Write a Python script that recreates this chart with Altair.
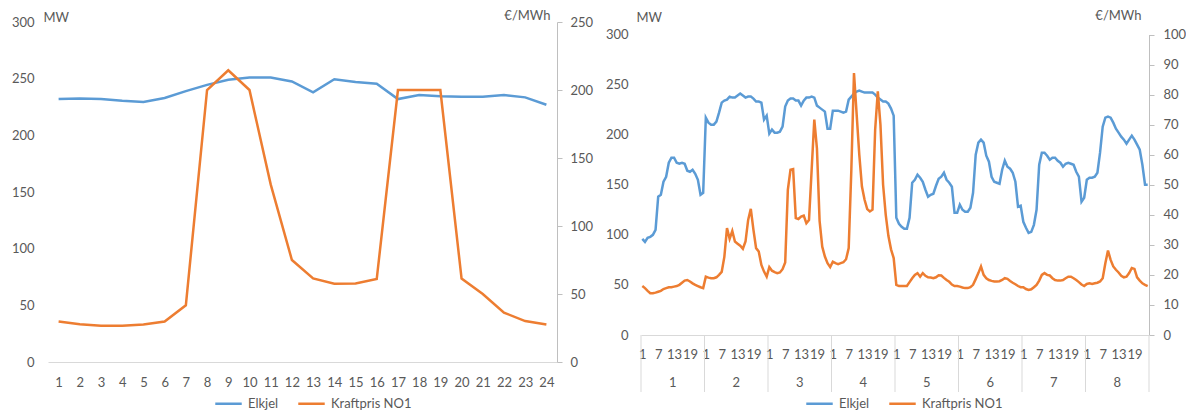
import altair as alt
import pandas as pd

# ---------------- data ----------------
hours = list(range(1, 25))
elkjel_day = [232, 232.5, 232, 230.5, 229.5, 233, 239, 244.5, 249, 251, 251, 247.5,
              238, 249.5, 247, 245.5, 232, 235.5, 234.5, 234, 234, 235.5, 233.5, 227]
pris_day = [29.7, 27.7, 26.7, 26.7, 27.5, 29.7, 41.7, 200, 214.5, 200, 130.6, 75,
            61.5, 57.6, 57.8, 61, 200, 200, 200, 61.3, 50, 36.3, 30.1, 27.5]

days = [1, 2, 3, 4, 5, 6, 7, 8]
hour_ticks = [1, 7, 13, 19]
elkjel_d1 = [96, 93, 97, 98, 100, 105, 138, 140, 153, 158, 172, 177, 177, 172, 171, 172, 171, 164, 163, 165, 161, 155, 140, 142]
elkjel_d2 = [217, 212, 210, 210, 213, 222, 232, 234, 235, 238, 237, 237, 239, 241, 239, 237, 238, 238, 236, 233, 233, 232, 215, 219]
elkjel_d3 = [201, 205, 202, 202, 203, 208, 228, 234, 236, 236, 234, 234, 229, 234, 237, 237, 238, 237, 229, 227, 225, 223, 206, 206]
elkjel_d4 = [224, 224, 224, 223, 222, 223, 235, 238, 241, 243, 244, 243, 242, 242, 242, 242, 240, 237, 235, 233, 233, 231, 226, 219]
elkjel_d5 = [117, 111, 108, 106, 106, 117, 152, 155, 160, 157, 153, 145, 138, 140, 141, 149, 156, 158, 162, 155, 152, 148, 122, 122]
elkjel_d6 = [130, 125, 123, 123, 127, 142, 180, 192, 195, 192, 179, 173, 158, 153, 152, 151, 165, 174, 168, 166, 162, 153, 128, 129]
elkjel_d7 = [113, 107, 102, 103, 110, 125, 170, 182, 182, 179, 175, 177, 177, 174, 172, 168, 171, 172, 171, 170, 163, 158, 133, 137]
elkjel_d8 = [155, 157, 157, 158, 162, 182, 208, 217, 218, 217, 212, 206, 202, 198, 195, 191, 195, 199, 195, 190, 185, 170, 150, 150]

pris_d1 = [16.3, 15.6, 14.7, 13.9, 13.9, 14.1, 14.4, 14.7, 15.3, 15.6, 15.9, 15.9, 16.1, 16.3, 16.7, 17.4, 18.1, 18.3, 17.8, 17.2, 16.7, 16.3, 15.9, 15.6]
pris_d2 = [19.4, 19.1, 18.9, 18.9, 19.2, 20.0, 21.0, 26.0, 35.6, 32.0, 34.6, 31.1, 30.4, 29.7, 28.7, 31.1, 38.3, 42.0, 35.0, 28.9, 27.8, 23.3, 21.1, 19.4]
pris_d3 = [22.6, 21.4, 20.9, 20.6, 20.8, 21.9, 24.1, 48.3, 55.0, 55.2, 38.9, 38.6, 39.4, 39.7, 37.2, 38.3, 55.0, 71.7, 62.0, 38.0, 29.4, 26.1, 23.9, 22.6]
pris_d4 = [24.4, 23.9, 23.6, 23.9, 24.2, 25.2, 28.9, 55.0, 87.2, 73.5, 60.0, 49.4, 45.0, 41.9, 41.1, 41.7, 68.3, 81.1, 70.0, 50.0, 40.0, 33.0, 28.5, 25.6]
pris_d5 = [16.7, 16.3, 16.3, 16.3, 16.3, 17.6, 18.9, 20.0, 20.6, 19.4, 20.6, 19.7, 19.2, 19.1, 18.9, 19.2, 19.9, 19.8, 19.0, 18.3, 17.7, 16.8, 16.3, 16.3]
pris_d6 = [16.1, 15.8, 15.6, 15.6, 15.9, 16.7, 18.6, 20.6, 22.8, 20.0, 18.9, 18.3, 18.0, 17.8, 17.8, 17.9, 18.3, 18.9, 18.7, 18.0, 17.4, 16.9, 16.3, 15.9]
pris_d7 = [15.9, 15.3, 15.0, 15.2, 15.9, 16.7, 18.1, 20.0, 20.6, 20.0, 19.8, 18.9, 18.3, 18.1, 18.1, 18.3, 18.9, 19.4, 19.4, 18.9, 18.3, 17.6, 16.8, 16.3]
pris_d8 = [17.0, 17.2, 17.0, 17.2, 17.4, 17.8, 18.9, 23.9, 28.1, 25.0, 22.8, 21.7, 20.8, 19.7, 19.2, 19.4, 20.6, 22.3, 22.0, 19.2, 18.1, 17.2, 16.7, 16.3]

elkjel_week = [elkjel_d1, elkjel_d2, elkjel_d3, elkjel_d4, elkjel_d5, elkjel_d6, elkjel_d7, elkjel_d8]
pris_week = [pris_d1, pris_d2, pris_d3, pris_d4, pris_d5, pris_d6, pris_d7, pris_d8]

series = ["Elkjel", "Kraftpris NO1"]

# ---------------- style ----------------
FONT = "Lato"
GRAY = "#595959"
LIGHT = "#D9D9D9"
AXIS = "#BFBFBF"
BLUE = "#5B9BD5"
ORANGE = "#ED7D31"
FS = 13
LW = 2.5

color_scale = alt.Scale(domain=series, range=[BLUE, ORANGE])


def make_legend(x, y):
    return alt.Legend(orient="none", legendX=x, legendY=y, direction="horizontal",
                      title=None, symbolType="stroke", symbolStrokeWidth=LW,
                      symbolSize=700, labelFontSize=FS, labelColor=GRAY, labelFont=FONT,
                      columnPadding=14, labelOffset=5, padding=0)


def yaxis_left(top_offset, label_pad):
    return alt.Axis(orient="left", values=[0, 50, 100, 150, 200, 250, 300], title="MW",
                    titleAngle=0, titleX=-5, titleY=-5 + top_offset, titleAlign="left",
                    titleBaseline="middle", titleFont=FONT, titleFontSize=FS,
                    titleColor=GRAY, titleFontWeight="normal",
                    labelFont=FONT, labelFontSize=FS, labelColor=GRAY,
                    domain=False, ticks=False, grid=False, labelPadding=label_pad)


def yaxis_right(values, title_x, label_pad):
    return alt.Axis(orient="right", values=values, title="€/MWh",
                    titleAngle=0, titleX=title_x, titleY=-7, titleAlign="right",
                    titleBaseline="middle", titleFont=FONT, titleFontSize=FS,
                    titleColor=GRAY, titleFontWeight="normal",
                    labelFont=FONT, labelFontSize=FS, labelColor=GRAY,
                    domain=True, domainColor=AXIS, ticks=True, tickColor=AXIS,
                    tickSize=5, grid=False, labelPadding=label_pad)


# ---------------- left panel ----------------
WL, HL = 509, 340
left_df = pd.DataFrame({"hour": hours, "Elkjel": elkjel_day, "Kraftpris NO1": pris_day})

x_left = alt.X("hour:Q", scale=alt.Scale(domain=[0.5, 24.5], nice=False, zero=False),
               axis=alt.Axis(values=hours, title=None, grid=False, ticks=False,
                             domainColor=LIGHT, labelPadding=14, labelFlush=False,
                             labelOverlap=False, format="d", labelFont=FONT,
                             labelFontSize=FS, labelColor=GRAY))

leg_l = make_legend(166, 367)

blue_l = alt.Chart(left_df).transform_calculate(s="'Elkjel'").mark_line(strokeWidth=LW).encode(
    x=x_left,
    y=alt.Y("Elkjel:Q", scale=alt.Scale(domain=[0, 300], nice=False),
            axis=yaxis_left(0, 14)),
    color=alt.Color("s:N", scale=color_scale, legend=leg_l),
)
orange_l = alt.Chart(left_df).transform_calculate(s="'Kraftpris NO1'").mark_line(strokeWidth=LW).encode(
    x=x_left,
    y=alt.Y("Kraftpris NO1:Q", scale=alt.Scale(domain=[0, 250], nice=False),
            axis=yaxis_right([0, 50, 100, 150, 200, 250], -7, 8)),
    color=alt.Color("s:N", scale=color_scale, legend=leg_l),
)
left = alt.layer(blue_l, orange_l).resolve_scale(y="independent").properties(width=WL, height=HL)

# ---------------- right panel ----------------
WR, HR = 508, 313
TOP_GAP = 12.5  # empty band above the right panel's value range
rows = []
for di, d in enumerate(days):
    for hi, h in enumerate(hours):
        rows.append({"t": di * 24 + hi + 0.5, "Elkjel": elkjel_week[di][hi],
                     "Kraftpris NO1": pris_week[di][hi]})
week_df = pd.DataFrame(rows)
day_df = pd.DataFrame({"day": days, "center": [(d - 1) * 24 + 12 for d in days]})
sep_df = pd.DataFrame({"b": [(d - 1) * 24 for d in days] + [len(days) * 24]})
tick_vals = [(d - 1) * 24 + h - 0.5 for d in days for h in hour_ticks]


def x_right(field):
    return alt.X(field, scale=alt.Scale(domain=[0, 192], nice=False, zero=False),
                 axis=alt.Axis(values=tick_vals, title=None, grid=False, ticks=False,
                               domainColor=LIGHT, labelPadding=13, labelFlush=False,
                               labelOverlap=False, labelFont=FONT, labelFontSize=FS,
                               labelColor=GRAY,
                               labelExpr="format(((datum.value - 0.5) % 24) + 1, 'd')"))


leg_r = make_legend(164, 367)

blue_r = alt.Chart(week_df).transform_calculate(s="'Elkjel'").mark_line(strokeWidth=LW).encode(
    x=x_right("t:Q"),
    y=alt.Y("Elkjel:Q", scale=alt.Scale(domain=[0, 300], nice=False, range=[HR, TOP_GAP]),
            axis=yaxis_left(0, 13)),
    color=alt.Color("s:N", scale=color_scale, legend=leg_r),
)
orange_r = alt.Chart(week_df).transform_calculate(s="'Kraftpris NO1'").mark_line(strokeWidth=LW).encode(
    x=x_right("t:Q"),
    y=alt.Y("Kraftpris NO1:Q", scale=alt.Scale(domain=[0, 100], nice=False, range=[HR, TOP_GAP]),
            axis=yaxis_right(list(range(0, 101, 10)), -8, 9)),
    color=alt.Color("s:N", scale=color_scale, legend=leg_r),
)
seps = alt.Chart(sep_df).mark_rule(color=LIGHT, strokeWidth=1).encode(
    x=x_right("b:Q"), y=alt.value(HR), y2=alt.value(HR + 57))
day_text = alt.Chart(day_df).mark_text(font=FONT, fontSize=FS, color=GRAY, baseline="middle").encode(
    x=x_right("center:Q"), y=alt.value(HR + 47.5), text="day:N")

right = alt.layer(seps, blue_r, orange_r, day_text).resolve_scale(y="independent").properties(width=WR, height=HR)

chart = alt.hconcat(left, right, spacing=12).resolve_scale(color="independent").resolve_legend(
    color="independent").properties(
    padding={"left": 11, "top": 9, "right": 0, "bottom": 0}, background="white"
).configure_view(stroke=None)

chart.save("out.html", embed_options={"renderer": "svg", "actions": False})
